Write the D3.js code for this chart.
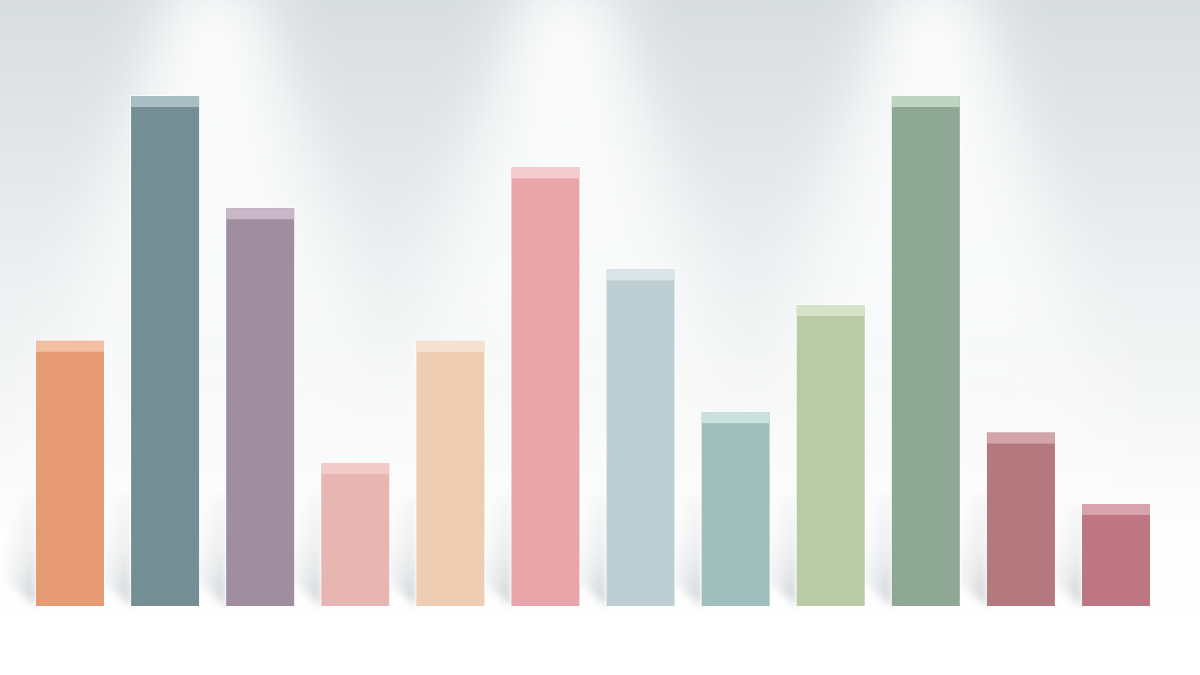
<!DOCTYPE html>
<html>
<head>
<meta charset="utf-8">
<script src="https://cdn.jsdelivr.net/npm/d3@7"></script>
<style>
  html, body { margin: 0; padding: 0; background: #fff; }
  svg { display: block; }
</style>
</head>
<body>
<svg id="chart" width="1200" height="675"></svg>
<script>
// datos del grafico (sin ejes ni etiquetas en el original)
const categories = ["A", "B", "C", "D", "E", "F", "G", "H", "I", "J", "K", "L"];
const values = [52, 100, 78, 28, 52, 86, 66, 38, 59, 100, 34, 20];

// paleta de colores: cuerpo y franja clara superior
const bodyColors = ["#E69B74", "#738F95", "#A18DA0", "#E8B6B2", "#EFCDB2", "#E8A6AB",
                    "#BECFD3", "#A0BEBB", "#B9CAA4", "#8EA895", "#B4787F", "#BD7682"];
const capColors = ["#F2BFA3", "#A9BEC2", "#C8B7C6", "#F3CBCA", "#F6E0D0", "#F5CDD1",
                   "#D9E5E6", "#CAE1DE", "#D7E3C9", "#BFD3C1", "#D3A5AB", "#D9A3AD"];

const width = 1200, height = 675;
const svg = d3.select("#chart");
const defs = svg.append("defs");

// fondo: gris arriba, blanco abajo
const bg = defs.append("linearGradient").attr("id", "bg")
  .attr("x1", 0).attr("y1", 0).attr("x2", 0).attr("y2", 1);
bg.append("stop").attr("offset", "0%").attr("stop-color", "#D8DDE0");
bg.append("stop").attr("offset", "20%").attr("stop-color", "#E2E6E8");
bg.append("stop").attr("offset", "42%").attr("stop-color", "#EDF0F1");
bg.append("stop").attr("offset", "62%").attr("stop-color", "#F6F7F7");
bg.append("stop").attr("offset", "80%").attr("stop-color", "#FEFEFE");
bg.append("stop").attr("offset", "100%").attr("stop-color", "#FFFFFF");

svg.append("rect").attr("width", width).attr("height", height).attr("fill", "url(#bg)");

// focos de luz
const beam = defs.append("linearGradient").attr("id", "beam")
  .attr("x1", 0).attr("y1", 0).attr("x2", 0).attr("y2", 1);
beam.append("stop").attr("offset", "0%").attr("stop-color", "#fff").attr("stop-opacity", 0.95);
beam.append("stop").attr("offset", "55%").attr("stop-color", "#fff").attr("stop-opacity", 0.65);
beam.append("stop").attr("offset", "100%").attr("stop-color", "#fff").attr("stop-opacity", 0);

defs.append("filter").attr("id", "blurBig")
  .attr("x", "-50%").attr("y", "-50%").attr("width", "200%").attr("height", "200%")
  .append("feGaussianBlur").attr("stdDeviation", 30);

const spots = [214, 566, 933];
svg.append("g").attr("filter", "url(#blurBig)")
  .selectAll("path").data(spots).join("path")
  .attr("d", cx => `M${cx - 40},-20 L${cx + 40},-20 L${cx + 210},540 L${cx - 210},540 Z`)
  .attr("fill", "url(#beam)");

// escalas
const x = d3.scaleBand().domain(categories).range([36, 1150]).paddingInner(0.285);
const y = d3.scaleLinear().domain([0, 100]).range([606, 96]);
const body = d3.scaleOrdinal().domain(categories).range(bodyColors);
const cap = d3.scaleOrdinal().domain(categories).range(capColors);

const data = categories.map((c, i) => ({ cat: c, val: values[i] }));

// sombras a la izquierda de cada barra
const sh = defs.append("linearGradient").attr("id", "shadow")
  .attr("x1", 1).attr("y1", 1).attr("x2", 0.3).attr("y2", 0);
sh.append("stop").attr("offset", "0%").attr("stop-color", "#AEB4B9").attr("stop-opacity", 0.7);
sh.append("stop").attr("offset", "45%").attr("stop-color", "#C4C9CD").attr("stop-opacity", 0.3);
sh.append("stop").attr("offset", "100%").attr("stop-color", "#DDE0E2").attr("stop-opacity", 0);

defs.append("filter").attr("id", "blurSmall")
  .attr("x", "-50%").attr("y", "-50%").attr("width", "200%").attr("height", "200%")
  .append("feGaussianBlur").attr("stdDeviation", 4);

svg.append("g").attr("filter", "url(#blurSmall)")
  .selectAll("path").data(data).join("path")
  .attr("d", d => {
    const x0 = x(d.cat), b = y(0);
    const h = Math.min(y(0) - y(d.val), 110);
    return `M${x0},${b} L${x0 - 30},${b - 26} L${x0 - 30},${b - h} L${x0},${b - h} Z`;
  })
  .attr("fill", "url(#shadow)");

// barras
const bars = svg.append("g").selectAll("g").data(data).join("g");

bars.append("rect")
  .attr("x", d => x(d.cat) - 1)
  .attr("y", d => y(d.val) - 1)
  .attr("width", x.bandwidth() + 2)
  .attr("height", d => y(0) - y(d.val) + 1)
  .attr("fill", "#fff").attr("opacity", 0.6);

bars.append("rect")
  .attr("x", d => x(d.cat))
  .attr("y", d => y(d.val))
  .attr("width", x.bandwidth())
  .attr("height", d => y(0) - y(d.val))
  .attr("fill", d => body(d.cat));

bars.append("rect")
  .attr("x", d => x(d.cat))
  .attr("y", d => y(d.val))
  .attr("width", x.bandwidth())
  .attr("height", 11)
  .attr("fill", d => cap(d.cat));
</script>
</body>
</html>
